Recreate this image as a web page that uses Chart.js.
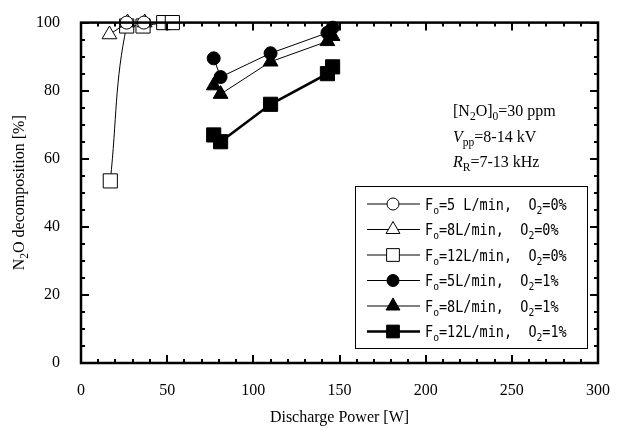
<!DOCTYPE html>
<html><head><meta charset="utf-8">
<script src="https://cdn.jsdelivr.net/npm/chart.js@4/dist/chart.umd.min.js"></script>
<style>html,body{margin:0;padding:0;background:#fff}#wrap{width:620px;height:434px}</style>
</head><body><div id="wrap"><canvas id="c" width="620" height="434"></canvas></div>
<script>
// ---- data ----
const power5L_0 = [26.5, 36.5];
const dec5L_0   = [100, 100];
const power8L_0 = [16.5, 27, 37];
const dec8L_0   = [96.5, 100, 100];
const power12L_0 = [17, 26.5, 36, 48, 53];
const dec12L_0   = [53.5, 99, 99, 100, 100];
const power5L_1 = [77, 81, 110, 143, 146];
const dec5L_1   = [89.5, 84, 91, 97, 98.5];
const power8L_1 = [77, 81, 110, 143, 146];
const dec8L_1   = [81.5, 79, 88.5, 94.5, 96];
const power12L_1 = [77, 81, 110, 143, 146];
const dec12L_1   = [67, 65, 76, 85, 87];
const xTicks = [0, 50, 100, 150, 200, 250, 300];
const yTicks = [0, 20, 40, 60, 80, 100];
const legendLabels = [
  ['5 L/min', '0%'], ['8L/min', '0%'], ['12L/min', '0%'],
  ['5L/min', '1%'], ['8L/min', '1%'], ['12L/min', '1%']
];

const pts = (xs, ys) => xs.map((x, i) => ({x, y: ys[i]}));
const SERIF = '"Liberation Serif", "Times New Roman", serif';
const MONO = '"DejaVu Sans Mono", monospace';

const styles = [
  {style:'circle', r:6.5, fill:'#fff', lw:1, tension:0},
  {style:'triangle', r:8.5, fill:'#fff', lw:1, tension:0},
  {style:'rect', r:10, fill:'#fff', lw:1, tension:0.4},
  {style:'circle', r:6.5, fill:'#000', lw:1, tension:0},
  {style:'triangle', r:8.5, fill:'#000', lw:1, tension:0},
  {style:'rect', r:10, fill:'#000', lw:2.5, tension:0}
];
const seriesData = [
  pts(power5L_0, dec5L_0), pts(power8L_0, dec8L_0), pts(power12L_0, dec12L_0),
  pts(power5L_1, dec5L_1), pts(power8L_1, dec8L_1), pts(power12L_1, dec12L_1)
];
const datasets = seriesData.map((d, i) => ({
  label: 'F=' + legendLabels[i][0] + ', O2=' + legendLabels[i][1],
  data: d, showLine: true, borderColor: '#000', borderWidth: styles[i].lw,
  tension: styles[i].tension, pointStyle: styles[i].style, pointRadius: styles[i].r,
  pointHoverRadius: styles[i].r, pointBackgroundColor: styles[i].fill,
  pointBorderColor: '#000', pointBorderWidth: 1, clip: false
}));

function drawRich(ctx, x, y, parts, size, family, sx) {
  sx = sx || 1;
  let cx = x;
  for (const p of parts) {
    const fs = p.sub ? size * 0.72 : size;
    ctx.font = (p.it ? 'italic ' : '') + fs + 'px ' + family;
    ctx.save();
    ctx.translate(cx, y + (p.sub ? size * 0.28 : 0));
    ctx.scale(sx, 1);
    ctx.fillText(p.t, 0, 0);
    ctx.restore();
    cx += ctx.measureText(p.t).width * sx;
  }
  return cx - x;
}
function measureRich(ctx, parts, size, family) {
  let w = 0;
  for (const p of parts) {
    const fs = p.sub ? size * 0.72 : size;
    ctx.font = (p.it ? 'italic ' : '') + fs + 'px ' + family;
    w += ctx.measureText(p.t).width;
  }
  return w;
}
function marker(ctx, style, x, y, r, fill) {
  ctx.beginPath();
  if (style === 'circle') ctx.arc(x, y, r, 0, Math.PI * 2);
  else if (style === 'rect') { const s = r * Math.SQRT1_2; ctx.rect(x - s, y - s, 2 * s, 2 * s); }
  else { ctx.moveTo(x, y - r); ctx.lineTo(x + r * 0.866, y + r / 2); ctx.lineTo(x - r * 0.866, y + r / 2); ctx.closePath(); }
  ctx.fillStyle = fill; ctx.fill();
  ctx.lineWidth = 1; ctx.strokeStyle = '#000'; ctx.stroke();
}

const framePlugin = {
  id: 'frame',
  afterDatasetsDraw(chart) {
    const {ctx, chartArea: a, scales} = chart;
    ctx.save();
    ctx.strokeStyle = '#000';
    ctx.lineWidth = 2;
    ctx.beginPath();
    for (let v = 0; v <= 300; v += 10) {
      const px = Math.round(scales.x.getPixelForValue(v));
      const L = v % 50 === 0 ? 8 : 4;
      ctx.moveTo(px, a.bottom); ctx.lineTo(px, a.bottom - L);
      ctx.moveTo(px, a.top); ctx.lineTo(px, a.top + L);
    }
    for (let v = 0; v <= 100; v += 5) {
      const py = Math.round(scales.y.getPixelForValue(v));
      const L = v % 20 === 0 ? 8 : 4;
      ctx.moveTo(a.left, py); ctx.lineTo(a.left + L, py);
      ctx.moveTo(a.right, py); ctx.lineTo(a.right - L, py);
    }
    ctx.stroke();
    ctx.lineWidth = 2.5;
    ctx.strokeRect(a.left, a.top, a.right - a.left, a.bottom - a.top);

    // annotation text
    ctx.fillStyle = '#000';
    ctx.textBaseline = 'alphabetic';
    ctx.textAlign = 'left';
    const tx = 453;
    drawRich(ctx, tx, 116, [{t:'[N'},{t:'2',sub:true},{t:'O]'},{t:'0',sub:true},{t:'=30 ppm'}], 16, SERIF);
    drawRich(ctx, tx, 142, [{t:'V',it:true},{t:'pp',sub:true},{t:'=8-14 kV'}], 16, SERIF);
    drawRich(ctx, tx, 167, [{t:'R',it:true},{t:'R',sub:true},{t:'=7-13 kHz'}], 16, SERIF);

    // legend box
    const bx = 355, by = 186, bw = 232, bh = 162;
    ctx.fillStyle = '#fff';
    ctx.fillRect(bx, by, bw, bh);
    ctx.lineWidth = 1;
    ctx.strokeRect(bx + 0.5, by + 0.5, bw, bh);
    for (let i = 0; i < 6; i++) {
      const ry = by + 18 + i * 25.5;
      ctx.beginPath();
      ctx.lineWidth = i === 5 ? 2.5 : 1;
      ctx.moveTo(367, ry); ctx.lineTo(420, ry); ctx.stroke();
      const s = styles[i];
      marker(ctx, s.style, 393, ry, s.style === 'rect' ? 9 : (s.style === 'triangle' ? 8 : 6), s.fill);
      ctx.fillStyle = '#000';
      drawRich(ctx, 425, ry + 5.5, [{t:'F'},{t:'o',sub:true},{t:'=' + legendLabels[i][0] + ',  O'},{t:'2',sub:true},{t:'=' + legendLabels[i][1]}], 15, MONO, 0.9);
    }

    // axis titles
    ctx.fillStyle = '#000';
    const xt = [{t:'Discharge Power [W]'}];
    const xw = measureRich(ctx, xt, 16, SERIF);
    drawRich(ctx, (a.left + a.right) / 2 - xw / 2, 422, xt, 16, SERIF);
    const yt = [{t:'N'},{t:'2',sub:true},{t:'O decomposition [%]'}];
    const yw = measureRich(ctx, yt, 16, SERIF);
    ctx.translate(24, (a.top + a.bottom) / 2);
    ctx.rotate(-Math.PI / 2);
    drawRich(ctx, -yw / 2, 0, yt, 16, SERIF);
    ctx.restore();
  }
};

new Chart(document.getElementById('c'), {
  type: 'scatter',
  data: {datasets},
  options: {
    responsive: false, animation: false, devicePixelRatio: 1,
    layout: {padding: {top: 14, right: 18, left: 0, bottom: 0}},
    plugins: {legend: {display: false}, tooltip: {enabled: false}},
    scales: {
      x: {
        type: 'linear', min: 0, max: 300,
        afterBuildTicks: s => { s.ticks = xTicks.map(v => ({value: v})); },
        afterFit: s => { s.height = 71; },
        grid: {display: false}, border: {display: false},
        ticks: {color: '#000', font: {family: SERIF, size: 16}, padding: 10, maxRotation: 0}
      },
      y: {
        type: 'linear', min: 0, max: 100,
        afterBuildTicks: s => { s.ticks = yTicks.map(v => ({value: v})); },
        afterFit: s => { s.width = 81; },
        grid: {display: false}, border: {display: false},
        ticks: {color: '#000', font: {family: SERIF, size: 16}, padding: 13}
      }
    }
  },
  plugins: [framePlugin]
});
</script></body></html>
